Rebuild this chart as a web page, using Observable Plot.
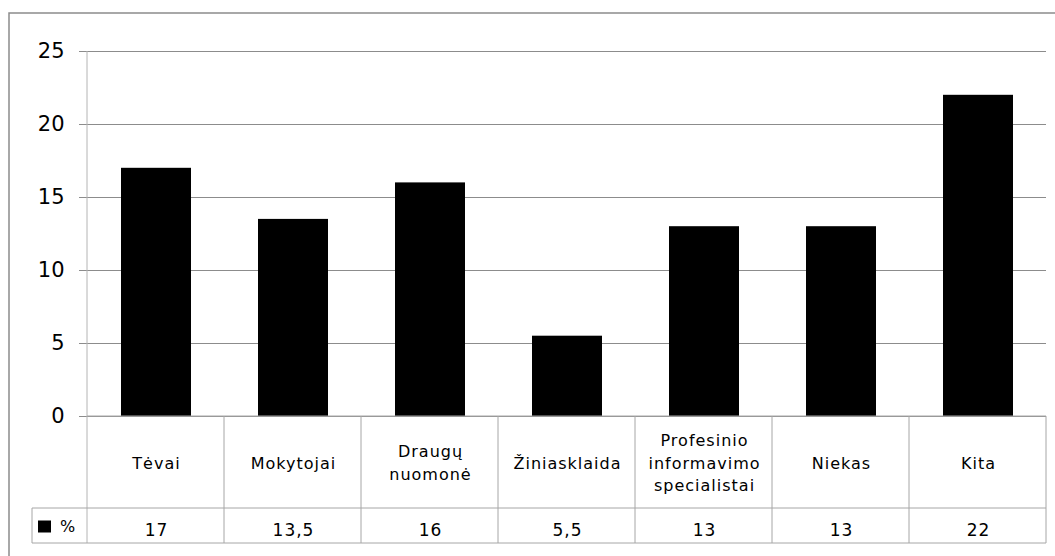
<!DOCTYPE html>
<html>
<head>
<meta charset="utf-8">
<script src="https://cdn.jsdelivr.net/npm/d3@7"></script>
<script src="https://cdn.jsdelivr.net/npm/@observablehq/plot@0.6"></script>
<style>
  html, body { margin: 0; padding: 0; background: #fff; }
  #chart svg { display: block; }
  #chart g[aria-label="text"] text { letter-spacing: 1px; }
</style>
</head>
<body>
<div id="chart"></div>
<script>
const categories = ["Tėvai", "Mokytojai", "Draugų\nnuomonė", "Žiniasklaida", "Profesinio\ninformavimo\nspecialistai", "Niekas", "Kita"];
const values = [17, 13.5, 16, 5.5, 13, 13, 22];
const yTicks = [0, 5, 10, 15, 20, 25];
const seriesName = "%";

const data = categories.map((c, i) => ({category: c, value: values[i]}));
const fmt = v => String(v).replace(".", ",");

const plot = Plot.plot({
  width: 1055,
  height: 556,
  marginLeft: 87,
  marginRight: 9,
  marginTop: 51,
  marginBottom: 140,
  style: {fontFamily: "DejaVu Sans", fontSize: "15px", color: "black", background: "white", overflow: "visible"},
  x: {domain: categories, paddingInner: 0.49, paddingOuter: 0.245, axis: null},
  y: {domain: [0, 25], axis: null},
  marks: [
    Plot.gridY(yTicks, {stroke: "#8c8c8c", strokeOpacity: 1}),
    Plot.axisY(yTicks, {tickSize: 8, tickPadding: 15, stroke: "#8c8c8c", fill: "black", fontSize: 21, tickFormat: d => d, label: null}),
    Plot.barY(data, {x: "category", y: "value", fill: "black"}),
    Plot.text(data, {x: "category", text: "category", frameAnchor: "bottom", lineAnchor: "middle", dy: 45, lineHeight: 1.4, fontSize: 16, fill: "black"}),
    Plot.text(data, {x: "category", text: d => fmt(d.value), frameAnchor: "bottom", lineAnchor: "middle", dy: 114, fontSize: 17, fill: "black"})
  ]
});

document.getElementById("chart").appendChild(plot);

// data table grid + legend key, built from the plot's own scales
const xs = plot.scale("x");
const ys = plot.scale("y");
const x0 = xs.range[0], x1 = xs.range[1], step = xs.step;
const yZero = ys.apply(0), yTop = ys.apply(25);
const rowCatH = 92, rowValH = 35, legendW = 55;
const yRow = yZero + rowCatH, yBot = yRow + rowValH;

const svg = d3.select(plot);
const g = svg.append("g").attr("aria-label", "data table");
const lineColor = "#a6a6a6";
g.append("line").attr("x1", x0).attr("x2", x0).attr("y1", yTop).attr("y2", yBot).attr("stroke", "#b4b4b4");
for (let k = 1; k <= categories.length; k++) {
  const x = x0 + k * step;
  g.append("line").attr("x1", x).attr("x2", x).attr("y1", yZero).attr("y2", yBot).attr("stroke", lineColor);
}
g.append("line").attr("x1", x0).attr("x2", x1).attr("y1", yZero).attr("y2", yZero).attr("stroke", lineColor);
[yRow, yBot].forEach(y => g.append("line").attr("x1", x0 - legendW).attr("x2", x1).attr("y1", y).attr("y2", y).attr("stroke", lineColor));
g.append("line").attr("x1", x0 - legendW).attr("x2", x0 - legendW).attr("y1", yRow).attr("y2", yBot).attr("stroke", lineColor);
// legend key
const ly = (yRow + yBot) / 2;
g.append("rect").attr("x", x0 - legendW + 6).attr("y", ly - 5).attr("width", 13).attr("height", 12).attr("fill", "black");
g.append("text").attr("x", x0 - legendW + 28).attr("y", ly + 1).attr("dy", "0.32em").attr("text-anchor", "start").attr("font-size", 16).attr("fill", "black").text(seriesName);
// outer chart-area border (top and left visible)
svg.append("path").attr("d", "M9,600V13H1100").attr("fill", "none").attr("stroke", "#8c8c8c").attr("stroke-width", 1.5);
</script>
</body>
</html>
